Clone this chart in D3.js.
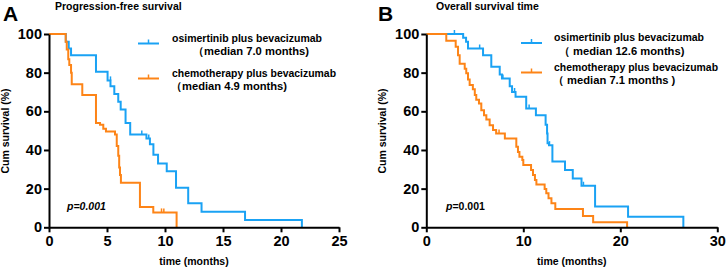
<!DOCTYPE html>
<html lang="en">
<head>
<meta charset="UTF-8">
<title>Kaplan-Meier</title>
<script src="https://cdn.jsdelivr.net/npm/d3@7/dist/d3.min.js"></script>
<style>
  body { margin: 0; background: #fff; }
  svg text { font-family: "Liberation Sans", Arial, sans-serif; font-weight: bold; fill: #000; }
</style>
</head>
<body>
<svg id="chart" width="726" height="270"></svg>
<script>
// PFS, osimertinib + bevacizumab
var pfsOsiTime = [0, 1.45, 1.7, 1.9, 4.05, 5.05, 5.3, 5.63, 5.97, 6.18, 6.6, 7.0, 8.4, 8.7, 9.0, 9.4, 10.15, 10.95, 12.0, 13.15, 16.9, 21.8]
var pfsOsiSurv = [100, 96, 92.5, 89, 80.5, 76, 73, 69, 65, 61, 54, 48, 46, 43, 37.5, 33, 29, 20.5, 12.4, 8, 3.8, 0]
var pfsOsiCensT = [5.3, 8.0, 8.6]
var pfsOsiCensS = [76, 48, 46]
// PFS, chemotherapy + bevacizumab
var pfsChemoTime = [0, 1.44, 1.53, 1.66, 1.75, 1.9, 1.96, 2.87, 4.05, 4.4, 4.68, 4.91, 5.69, 5.84, 5.97, 6.05, 6.12, 6.2, 7.84, 8.99, 11.0]
var pfsChemoSurv = [100, 96, 92, 87, 84, 80, 74, 68.5, 54, 53, 51, 49.5, 48, 42, 37, 31, 27, 23, 10.5, 7.7, 0]
var pfsChemoCensT = [9.7, 9.9]
var pfsChemoCensS = [7.7, 7.7]
// OS, osimertinib + bevacizumab
var osOsiTime = [0, 3.8, 4.1, 4.3, 5.85, 6.7, 7.57, 7.8, 8.6, 8.84, 9.2, 10.3, 11.3, 12.3, 12.45, 12.5, 12.65, 13.0, 14.3, 15.1, 16.0, 17.4, 20.8, 26.5]
var osOsiSurv = [100, 98, 96, 92.5, 89, 83, 79, 77, 73, 70, 67.5, 61.5, 58, 53, 48.5, 43.5, 42.5, 34, 29.7, 25.3, 21.5, 10.7, 5.5, 0]
var osOsiCensT = [2.9, 5.5, 7.9, 9.1, 10.6, 12.7, 16.2]
var osOsiCensS = [100, 92.5, 77, 70, 61.5, 42.5, 21.5]
// OS, chemotherapy + bevacizumab
var osChemoTime = [0, 2.06, 3.03, 3.27, 3.44, 3.96, 4.12, 4.3, 4.47, 4.8, 5.0, 5.15, 5.43, 5.67, 5.95, 6.19, 6.53, 6.88, 7.2, 8.1, 9.28, 9.45, 9.6, 9.9, 10.0, 10.8, 11.0, 11.2, 11.35, 12.2, 12.37, 12.6, 12.9, 13.3, 16.15, 17.2, 20.7]
var osChemoSurv = [100, 96.5, 93.4, 89, 84.6, 82, 79.7, 76.5, 73.6, 71.4, 68.4, 66, 64, 60.6, 58, 55.8, 52.8, 50.3, 48.5, 46, 41.7, 39, 36.5, 34.8, 32.2, 29.7, 27, 24.5, 22.2, 19.8, 17.6, 15, 12.4, 9.5, 5.8, 2.6, 0]
var osChemoCensT = [7.5]
var osChemoCensS = [48.5]

var yTicks = [0, 20, 40, 60, 80, 100]
var pfsXTicks = [0, 5, 10, 15, 20, 25]
var osXTicks = [0, 10, 20, 30]

var blue = '#1aa2f4', orange = '#fd8417'
var svg = d3.select('#chart')

function zip (t, s) {
  return t.map(function (d, i) { return [d, s[i]] })
}

function drawPanel (p) {
  var x = d3.scaleLinear().domain([0, p.xMax]).range([p.left, p.right])
  var y = d3.scaleLinear().domain([0, 100]).range([227.3, 34])
  var g = svg.append('g')

  var line = d3.line().x(function (d) { return x(d[0]) }).y(function (d) { return y(d[1]) }).curve(d3.curveStepAfter)

  p.series.forEach(function (s) {
    g.append('path').attr('d', line(zip(s.t, s.s)))
      .attr('fill', 'none').attr('stroke', s.color).attr('stroke-width', 2)
    g.selectAll(null).data(zip(s.ct, s.cs)).enter().append('line')
      .attr('x1', function (d) { return x(d[0]) }).attr('x2', function (d) { return x(d[0]) })
      .attr('y1', function (d) { return y(d[1]) }).attr('y2', function (d) { return y(d[1]) - 4 })
      .attr('stroke', s.color).attr('stroke-width', 1.5)
  })

  var ax = g.append('g').attr('transform', 'translate(0,' + y(0) + ')')
    .call(d3.axisBottom(x).tickValues(p.xTicks).tickSize(5).tickSizeOuter(0).tickPadding(3))
  var ay = g.append('g').attr('transform', 'translate(' + x(0) + ',0)')
    .call(d3.axisLeft(y).tickValues(yTicks).tickSize(5).tickSizeOuter(0).tickPadding(2))
  ;[ax, ay].forEach(function (a) {
    a.selectAll('path, line').attr('stroke', '#000').attr('stroke-width', 2)
    a.selectAll('text').attr('font-size', 14.5).attr('font-weight', 'bold')
      .attr('font-family', '"Liberation Sans", Arial, sans-serif').attr('fill', '#000')
  })

  g.append('text').attr('x', p.letterX).attr('y', 21).attr('font-size', 21).text(p.letter)
  g.append('text').attr('x', p.titleX).attr('y', 10).attr('font-size', 10.5).text(p.title)
  g.append('text').attr('x', (p.left + p.right) / 2).attr('y', 265).attr('font-size', 10.5)
    .attr('text-anchor', 'middle').text('time (months)')
  g.append('text').attr('transform', 'translate(' + (p.left - 40) + ',131) rotate(-90)')
    .attr('font-size', 10.5).attr('text-anchor', 'middle').text('Cum survival (%)')

  var pv = g.append('text').attr('x', p.pX).attr('y', 210).attr('font-size', 10.5)
  pv.append('tspan').attr('font-style', 'italic').text('p')
  pv.append('tspan').attr('font-style', p.pItalic ? 'italic' : 'normal').text('=0.001')

  p.legend.forEach(function (l) {
    g.append('line').attr('x1', p.legX).attr('x2', p.legX + 21).attr('y1', l.y).attr('y2', l.y)
      .attr('stroke', l.color).attr('stroke-width', 2)
    g.append('line').attr('x1', p.legX + 10.5).attr('x2', p.legX + 10.5).attr('y1', l.y).attr('y2', l.y - 4)
      .attr('stroke', l.color).attr('stroke-width', 1.5)
    g.append('text').attr('x', p.legTextX).attr('y', l.y - 2).attr('font-size', 10.6)
      .attr('textLength', l.w).attr('lengthAdjust', 'spacingAndGlyphs').text(l.line1)
    g.append('text').attr('x', l.x2).attr('y', l.y + 11.5).attr('font-size', 11.2).text(l.line2)
  })
}

drawPanel({
  left: 49, right: 339, xMax: 25, xTicks: pfsXTicks,
  letter: 'A', letterX: 3, title: 'Progression-free survival', titleX: 55,
  pX: 67, pItalic: true, legX: 138, legTextX: 172,
  series: [
    { t: pfsOsiTime, s: pfsOsiSurv, ct: pfsOsiCensT, cs: pfsOsiCensS, color: blue },
    { t: pfsChemoTime, s: pfsChemoSurv, ct: pfsChemoCensT, cs: pfsChemoCensS, color: orange }
  ],
  legend: [
    { y: 43.5, color: blue, w: 150, line1: 'osimertinib plus bevacizumab', line2: '（median 7.0 months)', x2: 193 },
    { y: 78.5, color: orange, w: 164, line1: 'chemotherapy plus bevacizumab', line2: '（median 4.9 months)', x2: 171 }
  ]
})

drawPanel({
  left: 426.3, right: 717.3, xMax: 30, xTicks: osXTicks,
  letter: 'B', letterX: 378, title: 'Overall survival time', titleX: 436,
  pX: 446, pItalic: false, legX: 521, legTextX: 554,
  series: [
    { t: osOsiTime, s: osOsiSurv, ct: osOsiCensT, cs: osOsiCensS, color: blue },
    { t: osChemoTime, s: osChemoSurv, ct: osChemoCensT, cs: osChemoCensS, color: orange }
  ],
  legend: [
    { y: 43, color: blue, w: 150, line1: 'osimertinib plus bevacizumab', line2: '（ median 12.6 months)', x2: 559 },
    { y: 72.5, color: orange, w: 164, line1: 'chemotherapy plus bevacizumab', line2: '（ median 7.1 months )', x2: 553 }
  ]
})
</script>
</body>
</html>
